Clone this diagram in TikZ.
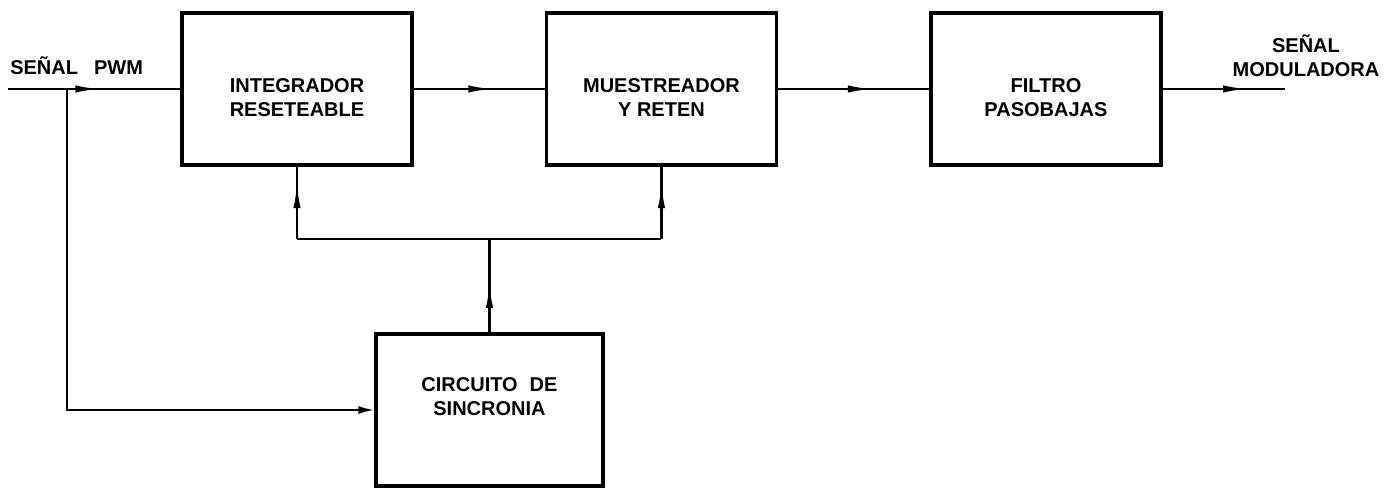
\documentclass[tikz,border=0pt]{standalone}
\usepackage{fontspec}
\setmainfont{Liberation Sans}
\usetikzlibrary{arrows.meta,positioning,decorations.markings}

\begin{document}
\begin{tikzpicture}[
  x=0.75pt, y=0.75pt,
  font=\fontsize{15}{18}\selectfont\bfseries,
  bloque/.style={draw, line width=2.6pt, minimum width=172.5pt, minimum height=114pt, align=center, inner sep=2pt},
  linea/.style={line width=1.6pt},
  flecha/.style={linea, postaction={decorate}, decoration={markings, mark=at position #1 with {\arrow{Latex[length=18pt,width=5.5pt]}}}}
]
\useasboundingbox (0,0) rectangle (1398,488);

% bloques
\node[bloque] (int) at (297,399) {\rule{0pt}{24pt}INTEGRADOR\\RESETEABLE};
\node[bloque, right=98.25pt of int] (mue) {\rule{0pt}{23pt}MUESTREADOR\\Y RETEN};
\node[bloque, right=113.25pt of mue] (fil) {\rule{0pt}{23pt}FILTRO\\PASOBAJAS};
\node[bloque, minimum width=170pt] (sin) at (489.5,78) {CIRCUITO\hspace{0.6em}DE\\SINCRONIA\rule[-20pt]{0pt}{0pt}};

% textos de entrada y salida
\node[anchor=base west, inner sep=0] (pwm) at (10,413) {SEÑAL\hspace{0.8em}PWM};
\node[align=center, inner sep=0] (mod) at (1306,432) {SEÑAL\\MODULADORA};

\coordinate (ent) at (8,399);
\coordinate (nodo) at (67,399);
\coordinate (sal) at (1285,399);
\coordinate (bus) at (489.5,249);

% conexiones
\draw[flecha=0.53] (ent) -- (int.west);
\draw[linea, -{Latex[length=12pt,width=6pt]}] (nodo) |- (sin.west);
\draw[flecha=0.6] (int) -- (mue);
\draw[flecha=0.62] (mue) -- (fil);
\draw[flecha=0.69] (fil.east) -- (sal);
\draw[flecha=0.52] (sin.north) -- (bus);
\draw[linea] (int.south |- bus) -- (mue.south |- bus);
\draw[flecha=0.76] (int.south |- bus) -- (int.south);
\draw[flecha=0.76] (mue.south |- bus) -- (mue.south);
\end{tikzpicture}
\end{document}
